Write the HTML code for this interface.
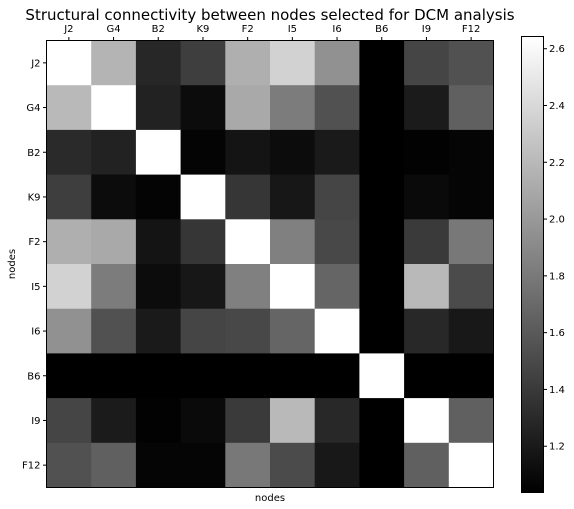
<!DOCTYPE html>
<html><head><meta charset="utf-8"><style>
body{margin:0;background:#fff;}
svg{display:block;font-family:"DejaVu Sans","Liberation Sans",sans-serif;}
</style></head><body>
<svg id="chart" width="574" height="509" viewBox="0 0 574 509">
<text x="270" y="20" font-size="15" text-anchor="middle" fill="#000">Structural connectivity between nodes selected for DCM analysis</text>
<g id="cells"></g>
<g id="ticks"></g>
<rect x="46.5" y="40.5" width="447" height="447" fill="none" stroke="#000" stroke-width="1"/>
<text x="270" y="501" font-size="10" text-anchor="middle">nodes</text>
<text x="15" y="264" font-size="10" text-anchor="middle" transform="rotate(-90 15 264)">nodes</text>
<defs><linearGradient id="cbg" x1="0" y1="1" x2="0" y2="0"><stop offset="0" stop-color="#000"/><stop offset="1" stop-color="#fff"/></linearGradient></defs>
<rect x="521.5" y="36.5" width="22" height="456" fill="url(#cbg)" stroke="#000" stroke-width="1"/>
<g id="cbticks"></g>
</svg>
<script>
const labels = ["J2","G4","B2","K9","F2","I5","I6","B6","I9","F12"];
const row0 = [2.64,2.17,1.28,1.43,2.14,2.36,1.95,1.04,1.47,1.55];
const row1 = [2.20,2.64,1.25,1.11,2.10,1.82,1.55,1.04,1.21,1.64];
const row2 = [1.30,1.25,2.64,1.06,1.16,1.11,1.20,1.04,1.05,1.07];
const row3 = [1.43,1.11,1.06,2.64,1.38,1.18,1.47,1.04,1.10,1.07];
const row4 = [2.14,2.10,1.16,1.38,2.64,1.84,1.49,1.04,1.40,1.79];
const row5 = [2.36,1.82,1.11,1.18,1.84,2.64,1.67,1.04,2.20,1.51];
const row6 = [1.95,1.55,1.20,1.47,1.49,1.67,2.64,1.04,1.29,1.19];
const row7 = [1.04,1.04,1.04,1.04,1.04,1.04,1.04,2.64,1.04,1.04];
const row8 = [1.47,1.21,1.05,1.10,1.40,2.20,1.29,1.04,2.64,1.64];
const row9 = [1.55,1.64,1.07,1.07,1.79,1.51,1.19,1.04,1.64,2.64];
const matrix = [row0,row1,row2,row3,row4,row5,row6,row7,row8,row9];
const cbTicks = [1.2,1.4,1.6,1.8,2.0,2.2,2.4,2.6];
const vmin = 1.037, vmax = 2.643;
const NS="http://www.w3.org/2000/svg";
const X0=46.5,Y0=40.5,W=447,H=447;
const cw=W/labels.length, ch=H/labels.length;
const xs=i=>X0+i*cw, ys=i=>Y0+i*ch;
const gray=v=>{let t=Math.max(0,Math.min(1,(v-vmin)/(vmax-vmin)));let g=Math.round(t*255);return `rgb(${g},${g},${g})`;};
const cbY=v=>36.5+456*(1-(v-vmin)/(vmax-vmin));
const cells=document.getElementById('cells');
matrix.forEach((row,r)=>row.forEach((v,c)=>{
 const e=document.createElementNS(NS,'rect');
 e.setAttribute('x',xs(c));e.setAttribute('y',ys(r));
 e.setAttribute('width',cw+0.5);e.setAttribute('height',ch+0.5);
 e.setAttribute('fill',gray(v));
 
 
 cells.appendChild(e);
}));
const tk=document.getElementById('ticks');
labels.forEach((l,i)=>{
 const cx=xs(i)+cw/2, cy=ys(i)+ch/2;
 const t1=document.createElementNS(NS,'line');
 t1.setAttribute('x1',cx);t1.setAttribute('x2',cx);t1.setAttribute('y1',Y0);t1.setAttribute('y2',Y0-3.5);t1.setAttribute('stroke','#000');
 
 
 tk.appendChild(t1);
 const tx=document.createElementNS(NS,'text');
 tx.setAttribute('x',cx);tx.setAttribute('y',32);tx.setAttribute('font-size','10');tx.setAttribute('text-anchor','middle');tx.textContent=l;
 
 
 tk.appendChild(tx);
 const t2=document.createElementNS(NS,'line');
 t2.setAttribute('x1',X0);t2.setAttribute('x2',X0-3.5);t2.setAttribute('y1',cy);t2.setAttribute('y2',cy);t2.setAttribute('stroke','#000');
 
 
 tk.appendChild(t2);
 const ty=document.createElementNS(NS,'text');
 ty.setAttribute('x',X0-6);ty.setAttribute('y',cy+3.5);ty.setAttribute('font-size','10');ty.setAttribute('text-anchor','end');ty.textContent=l;
 
 
 tk.appendChild(ty);
});
const cb=document.getElementById('cbticks');
cbTicks.forEach(v=>{
 const y=cbY(v);
 const l=document.createElementNS(NS,'line');
 l.setAttribute('x1',543.5);l.setAttribute('x2',547);l.setAttribute('y1',y);l.setAttribute('y2',y);l.setAttribute('stroke','#000');
 
 
 cb.appendChild(l);
 const t=document.createElementNS(NS,'text');
 t.setAttribute('x',549);t.setAttribute('y',y+3.5);t.setAttribute('font-size','10');t.textContent=v.toFixed(1);
 
 
 cb.appendChild(t);
});
</script>
</body></html>
